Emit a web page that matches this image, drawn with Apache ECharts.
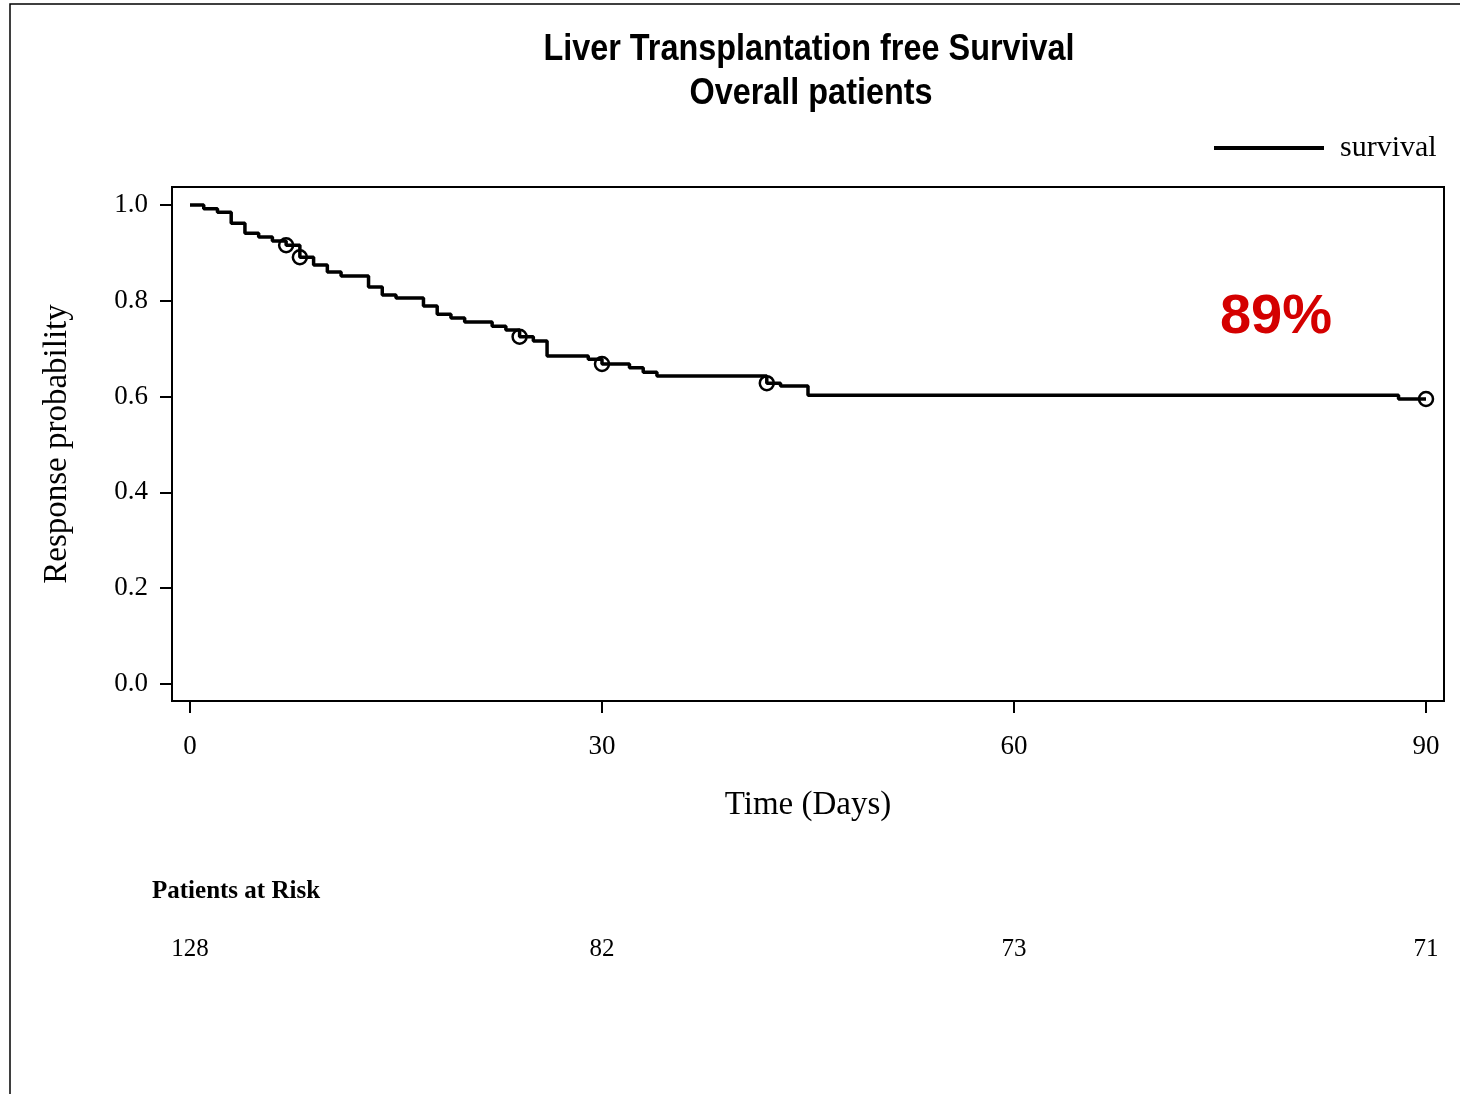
<!DOCTYPE html>
<html>
<head>
<meta charset="utf-8">
<title>Liver Transplantation free Survival</title>
<script src="https://cdn.jsdelivr.net/npm/echarts@6/dist/echarts.min.js"></script>
<style>
  html, body { margin: 0; padding: 0; background: #fff; }
  #chart { width: 1460px; height: 1094px; }
</style>
</head>
<body>
<div id="chart"></div>
<script>
// Kaplan-Meier estimate: day at which each step starts and the survival level from then on
const stepDays = [0, 1, 2, 3, 4, 5, 6, 7, 8, 9, 10, 11, 13, 14, 15, 17, 18, 19, 20, 22, 23, 24, 25, 26, 29, 30, 32, 33, 34, 42, 43, 45, 88, 90];
const survival = [1.0, 0.992, 0.985, 0.962, 0.941, 0.933, 0.925, 0.916, 0.891, 0.875, 0.860, 0.852, 0.829, 0.812, 0.806, 0.789, 0.772, 0.764, 0.756, 0.747, 0.739, 0.725, 0.716, 0.685, 0.678, 0.668, 0.660, 0.651, 0.643, 0.628, 0.622, 0.603, 0.595, 0.595];

// Censored observations
const censorDays = [7, 8, 24, 30, 42, 90];
const censorSurvival = [0.916, 0.891, 0.725, 0.668, 0.628, 0.595];

// Axis ticks
const dayTicks = [0, 30, 60, 90];
const probTicks = [0.0, 0.2, 0.4, 0.6, 0.8, 1.0];

// Number at risk table
const riskDays = [0, 30, 60, 90];
const riskCounts = [128, 82, 73, 71];

const SERIF = '"Liberation Serif", "Times New Roman", serif';
const SANS = '"Liberation Sans", Arial, sans-serif';

const chart = echarts.init(document.getElementById('chart'), null, { renderer: 'canvas' });

const option = {
  backgroundColor: '#ffffff',
  animation: false,
  legend: {
    data: ['survival'],
    left: 1214,
    top: 133,
    padding: 0,
    icon: 'rect',
    itemWidth: 110,
    itemHeight: 4,
    itemStyle: { color: '#000' },
    textStyle: { fontFamily: SERIF, fontSize: 30, color: '#000', padding: [0, 0, 0, 11] }
  },
  grid: [
    {
      left: 172, top: 187, width: 1272, height: 514,
      show: true, borderColor: '#000', borderWidth: 2, backgroundColor: 'transparent'
    },
    { left: 172, top: 932, width: 1272, height: 34 }
  ],
  xAxis: [
    {
      type: 'value',
      gridIndex: 0,
      min: -1.3107,
      max: 91.3107,
      name: 'Time (Days)',
      nameLocation: 'middle',
      nameGap: 88,
      nameTextStyle: { fontFamily: SERIF, fontSize: 33, color: '#000' },
      axisLine: { show: true, onZero: false, lineStyle: { color: '#000', width: 2 } },
      axisTick: { show: true, length: 12, lineStyle: { color: '#000', width: 2 }, customValues: dayTicks },
      axisLabel: {
        fontFamily: SERIF, fontSize: 27, color: '#000', margin: 32,
        customValues: dayTicks
      },
      splitLine: { show: false }
    },
    {
      type: 'value', gridIndex: 1, min: -1.3107, max: 91.3107, show: false
    }
  ],
  yAxis: [
    {
      type: 'value',
      gridIndex: 0,
      min: -0.0355,
      max: 1.0376,
      name: 'Response probability',
      nameLocation: 'middle',
      nameGap: 98,
      nameTextStyle: { fontFamily: SERIF, fontSize: 33, color: '#000' },
      axisLine: { show: true, onZero: false, lineStyle: { color: '#000', width: 2 } },
      axisTick: { show: true, length: 12, lineStyle: { color: '#000', width: 2 }, customValues: probTicks },
      axisLabel: {
        fontFamily: SERIF, fontSize: 27, color: '#000', margin: 24,
        customValues: probTicks,
        formatter: v => v.toFixed(1)
      },
      splitLine: { show: false }
    },
    { type: 'value', gridIndex: 1, min: 0, max: 1, show: false }
  ],
  series: [
    {
      name: 'survival',
      type: 'line',
      xAxisIndex: 0,
      yAxisIndex: 0,
      step: 'end',
      showSymbol: false,
      symbol: 'none',
      color: '#000',
      lineStyle: { color: '#000', width: 3.5 },
      data: stepDays.map((d, i) => [d, survival[i]]),
      z: 2
    },
    {
      name: 'censored',
      type: 'scatter',
      xAxisIndex: 0,
      yAxisIndex: 0,
      symbol: 'circle',
      symbolSize: 14,
      itemStyle: { color: 'rgba(0,0,0,0)', borderColor: '#000', borderWidth: 2.5, opacity: 1 },
      data: censorDays.map((d, i) => [d, censorSurvival[i]]),
      z: 3
    },
    {
      name: 'at risk',
      type: 'scatter',
      xAxisIndex: 1,
      yAxisIndex: 1,
      symbolSize: 1,
      itemStyle: { color: 'rgba(0,0,0,0)', opacity: 1 },
      label: {
        show: true,
        position: 'inside',
        fontFamily: SERIF,
        fontSize: 25,
        color: '#000',
        formatter: p => String(p.value[2])
      },
      data: riskDays.map((d, i) => [d, 0.5, riskCounts[i]])
    }
  ],
  graphic: [
    {
      type: 'rect',
      silent: true,
      shape: { x: 10, y: 4, width: 1600, height: 1200 },
      style: { fill: 'none', stroke: '#000', lineWidth: 1.5 }
    },
    {
      type: 'text',
      x: 809, y: 50,
      scaleX: 0.9,
      style: {
        text: 'Liver Transplantation free Survival',
        font: 'bold 36px ' + SANS,
        fill: '#000',
        textAlign: 'center',
        textVerticalAlign: 'middle'
      }
    },
    {
      type: 'text',
      x: 811, y: 94,
      scaleX: 0.9,
      style: {
        text: 'Overall patients',
        font: 'bold 36px ' + SANS,
        fill: '#000',
        textAlign: 'center',
        textVerticalAlign: 'middle'
      }
    },
    {
      type: 'text',
      x: 1276, y: 318,
      style: {
        text: '89%',
        font: 'bold 56px ' + SANS,
        fill: '#d40000',
        textAlign: 'center',
        textVerticalAlign: 'middle'
      }
    },
    {
      type: 'text',
      x: 152, y: 892,
      style: {
        text: 'Patients at Risk',
        font: 'bold 25px ' + SERIF,
        fill: '#000',
        textAlign: 'left',
        textVerticalAlign: 'middle'
      }
    }
  ]
};

chart.setOption(option);
</script>
</body>
</html>
